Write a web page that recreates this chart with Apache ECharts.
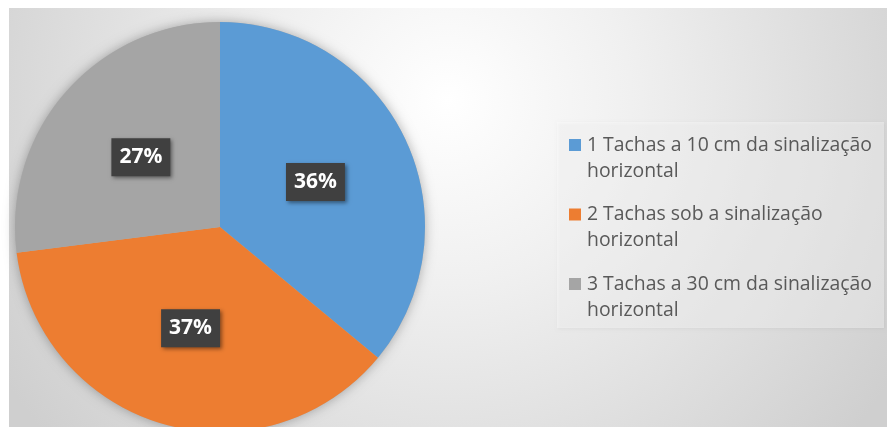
<!DOCTYPE html>
<html>
<head>
<meta charset="utf-8">
<script src="https://cdn.jsdelivr.net/npm/echarts@6/dist/echarts.min.js"></script>
<style>
html,body{margin:0;padding:0;background:#ffffff;}
#chart{width:887px;height:427px;}
</style>
</head>
<body>
<div id="chart"></div>
<script>
var categories = [
  '1 Tachas a 10 cm da sinalização\nhorizontal',
  '2 Tachas sob a sinalização\nhorizontal',
  '3 Tachas a 30 cm da sinalização\nhorizontal'
];
var values = [36, 37, 27];
var colors = ['#5B9BD5', '#ED7D31', '#A5A5A5'];

var chart = echarts.init(document.getElementById('chart'));

var rich = {
  t: { fontFamily: 'Open Sans', fontSize: 19.4, color: '#595959', lineHeight: 26 },
  gap: { width: 6, height: 12, lineHeight: 26 },
  sp: { width: 18, height: 12, lineHeight: 26 }
};
colors.forEach(function (c, i) {
  rich['sq' + i] = { width: 12, height: 12, backgroundColor: c, lineHeight: 26 };
});

var option = {
  animation: false,
  graphic: [{
    type: 'rect',
    z: -10,
    silent: true,
    shape: { x: 9, y: 8, width: 878, height: 419 },
    style: {
      fill: {
        type: 'radial', x: 0.5, y: 0.22, r: 1.25,
        colorStops: [
          { offset: 0, color: '#ffffff' },
          { offset: 0.35, color: '#f0f0f0' },
          { offset: 1, color: '#cfcfcf' }
        ]
      }
    }
  }],
  legend: {
    orient: 'vertical',
    left: 557,
    top: 122,
    padding: [10, 12, 5, 7],
    itemGap: 17.5,
    itemWidth: 0,
    itemHeight: 0,
    itemStyle: { opacity: 0 },
    backgroundColor: 'rgba(255,255,255,0.38)',
    shadowColor: 'rgba(0,0,0,0.12)',
    shadowBlur: 3,
    shadowOffsetX: 1,
    shadowOffsetY: 1,
    data: categories,
    selectedMode: false,
    formatter: function (name) {
      var i = categories.indexOf(name);
      var lines = name.split('\n');
      return '{sq' + i + '|}{gap|}{t|' + lines[0] + '}\n{sp|}{t|' + lines[1] + '}';
    },
    textStyle: { fontFamily: 'Open Sans', fontSize: 19.4, lineHeight: 26, rich: rich }
  },
  series: [{
    type: 'pie',
    silent: true,
    z: 1,
    center: [220, 227],
    radius: 205,
    label: { show: false },
    labelLine: { show: false },
    itemStyle: { color: '#b0b0b0', shadowBlur: 12, shadowColor: 'rgba(0,0,0,0.3)' },
    data: [{ value: 1, name: '' }]
  }, {
    type: 'pie',
    z: 2,
    center: [220, 227],
    radius: 205,
    startAngle: 90,
    clockwise: true,
    color: colors,
    data: categories.map(function (c, i) { return { name: c, value: values[i] }; }),
    itemStyle: { borderWidth: 0 },
    label: {
      show: true,
      position: 'inside',
      formatter: '{d}%',
      color: '#ffffff',
      fontFamily: 'Open Sans',
      fontWeight: 'bold',
      fontSize: 21,
      lineHeight: 24,
      backgroundColor: '#404040',
      padding: [7, 8, 7, 8],
      shadowColor: 'rgba(0,0,0,0.45)',
      shadowBlur: 4,
      shadowOffsetX: 2,
      shadowOffsetY: 2
    },
    labelLine: { show: false },
    emphasis: { disabled: true }
  }]
};
chart.setOption(option);
</script>
</body>
</html>
